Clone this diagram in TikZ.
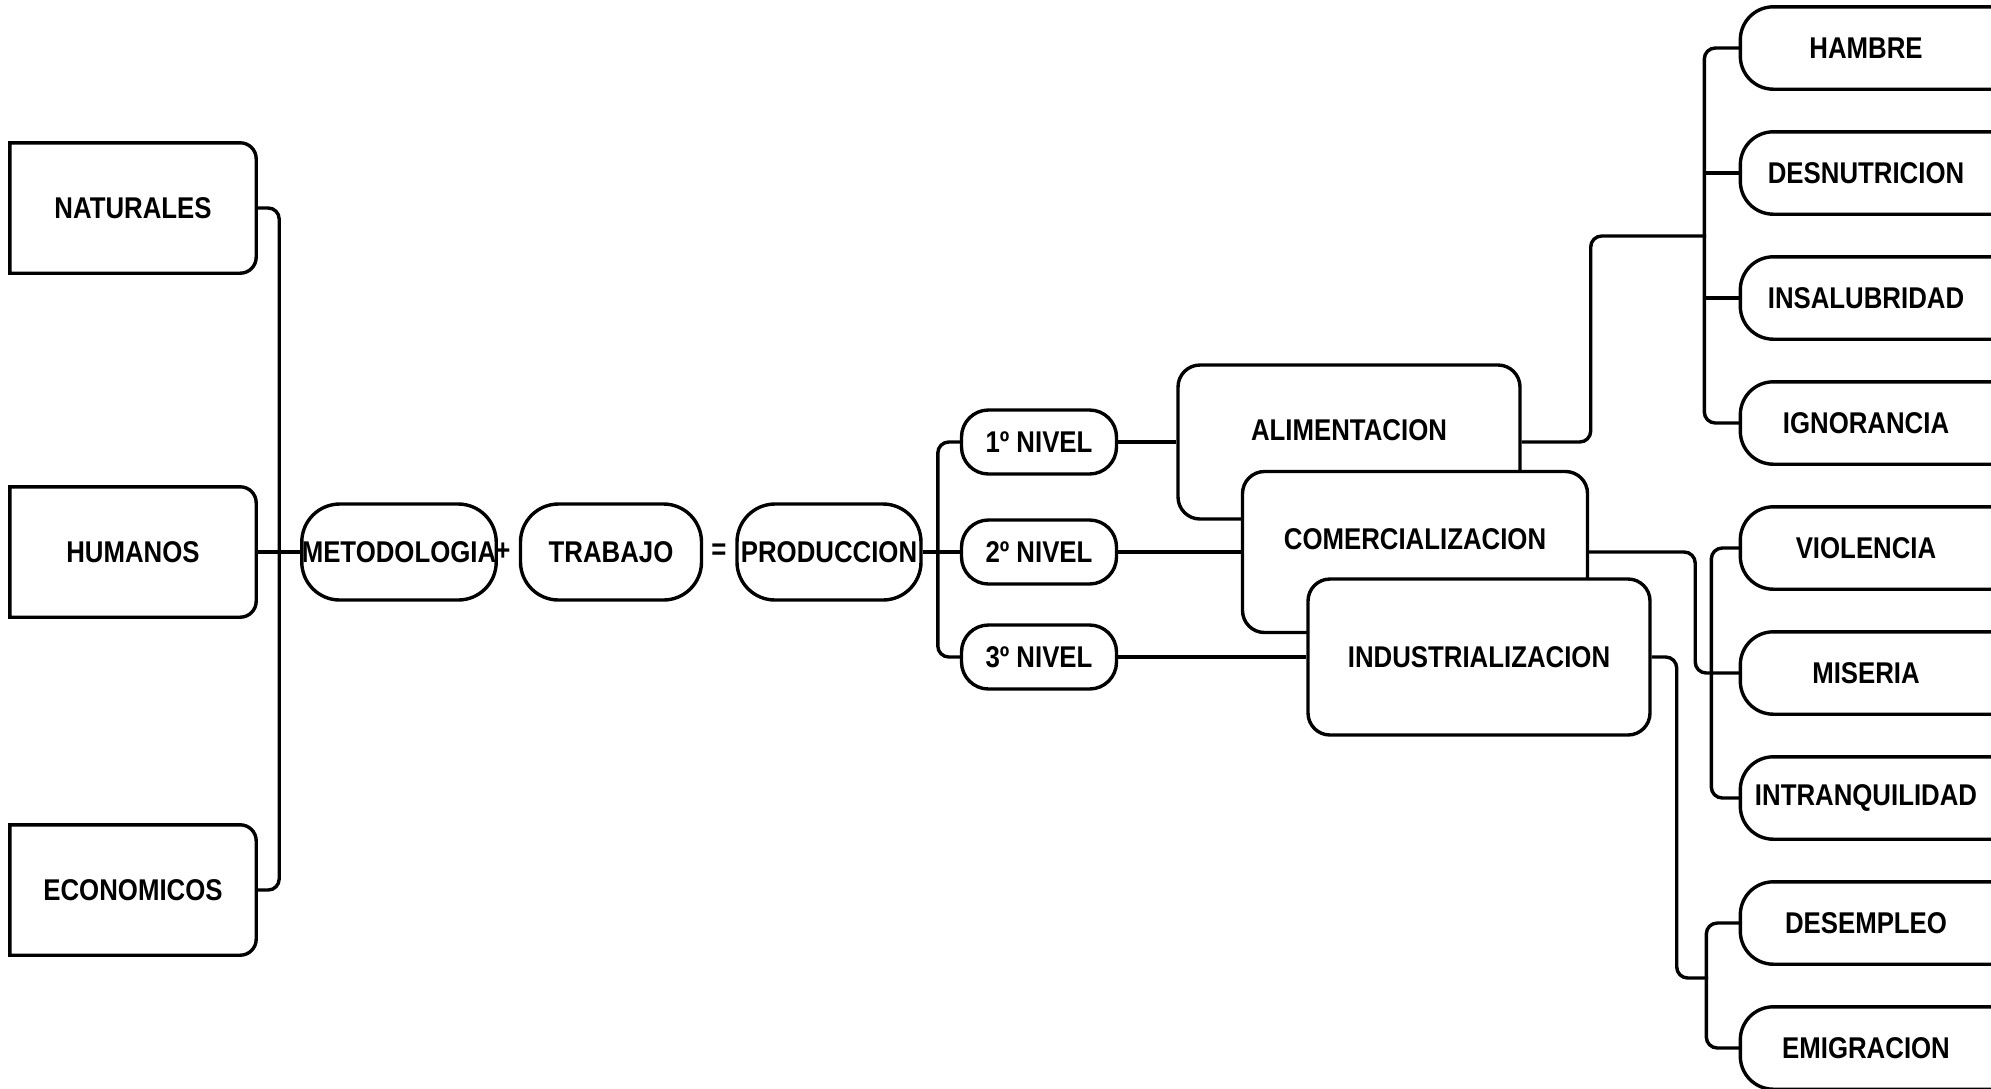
\documentclass[tikz,border=0pt]{standalone}
\usepackage{fontspec}
\setmainfont[FakeStretch=0.86]{Liberation Sans}
\usetikzlibrary{positioning}
\tikzstyle{src}=[minimum width=243pt, minimum height=127pt, inner sep=0pt]
\tikzstyle{pill}=[draw, rounded corners=38pt, minimum height=96pt, inner sep=0pt]
\tikzstyle{lvl}=[draw, rounded corners=27pt, minimum width=155pt, minimum height=64pt, inner sep=0pt]
\tikzstyle{sect}=[draw, fill=white, rounded corners=22pt, minimum width=342pt, minimum height=156pt, inner sep=0pt]
\tikzstyle{eff}=[minimum width=248pt, minimum height=79pt, inner sep=0pt]
\tikzstyle{link}=[rounded corners=11pt]

\begin{document}
\begin{tikzpicture}[x=1pt,y=-1pt,line width=3.4pt,font=\bfseries\fontsize{30}{31}\selectfont]
\useasboundingbox (0,0) rectangle (1991,1088);

% recursos
\node[src] at (133,208) (nat) {NATURALES};
\node[src, below of = nat, node distance = 344pt] (hum) {HUMANOS};
\node[src, below of = hum, node distance = 338pt] (eco) {ECONOMICOS};
\foreach \n in {nat,hum,eco}
  \draw (\n.north west) -- ([xshift=-16pt]\n.north east) arc[start angle=90,end angle=0,radius=16pt]
    -- ([yshift=16pt]\n.south east) arc[start angle=0,end angle=-90,radius=16pt] -- (\n.south west) -- cycle;

% ecuacion
\node[pill, minimum width=188pt, right of = hum, node distance = 266pt] (met) {METODOLOGIA};
\node[right of = met, node distance = 104pt] (plus) {+};
\node[pill, minimum width=181pt, right of = met, node distance = 212pt] (trab) {TRABAJO};
\node[right of = trab, node distance = 108pt] (eq) {=};
\node[pill, minimum width=184pt, right of = trab, node distance = 218pt] (prod) {PRODUCCION};

% niveles
\node[lvl, right of = prod, node distance = 210pt] (niv2) {2º NIVEL};
\node[lvl, above of = niv2, node distance = 110pt] (niv1) {1º NIVEL};
\node[lvl, below of = niv2, node distance = 105pt] (niv3) {3º NIVEL};

\node[sect, minimum height=154pt, text depth=24pt, right of = niv1, node distance = 310pt] (alim) {ALIMENTACION};
\node[sect, minimum width=345pt, minimum height=161pt, text depth=26pt, right of = niv2, node distance = 376pt] (com) {COMERCIALIZACION};
\node[sect, right of = niv3, node distance = 440pt] (ind) {INDUSTRIALIZACION};

% efectos
\node[eff] at (1866,48) (ham) {HAMBRE};
\node[eff, below of = ham, node distance = 125pt] (des) {DESNUTRICION};
\node[eff, below of = des, node distance = 125pt] (ins) {INSALUBRIDAD};
\node[eff, below of = ins, node distance = 125pt] (ign) {IGNORANCIA};
\node[eff, below of = ign, node distance = 125pt] (vio) {VIOLENCIA};
\node[eff, below of = vio, node distance = 125pt] (mis) {MISERIA};
\node[eff, below of = mis, node distance = 125pt] (intr) {INTRANQUILIDAD};
\node[eff, below of = intr, node distance = 125pt] (desm) {DESEMPLEO};
\node[eff, below of = desm, node distance = 125pt] (emi) {EMIGRACION};
\foreach \n in {ham,des,ins,ign,vio,mis,intr,desm,emi}
  \draw[rounded corners=33pt] ([xshift=60pt]\n.north east) -- (\n.north west) -- (\n.south west) -- ([xshift=60pt]\n.south east);

\coordinate (j1) at (1706,236);
\coordinate (j3) at (1708,978);

\draw[link] (nat.east) -- ++(23,0) |- (eco.east);
\draw (hum.east) -- (met.west);
\draw[link] (niv1.west) -- ++(-22,0) |- (niv3.west);
\draw (prod.east) -- (niv2.west);
\draw (niv1.east) -- (alim.west);
\draw (niv2.east) -- (com.west);
\draw (niv3.east) -- (ind.west);

\draw[link] (alim.east) -- ++(69,0) |- (j1);
\draw[link] (ham.west) -- ++(-36,0) |- (ign.west);
\draw (des.west) -- ++(-36,0);
\draw (ins.west) -- ++(-36,0);

\draw[link] (com.east) -- ++(106,0) |- (mis.west);
\draw[link] (vio.west) -- ++(-29,0) |- (intr.west);

\draw[link] (ind.east) -- ++(25,0) |- (j3);
\draw[link] (desm.west) -- ++(-34,0) |- (emi.west);
\end{tikzpicture}
\end{document}
